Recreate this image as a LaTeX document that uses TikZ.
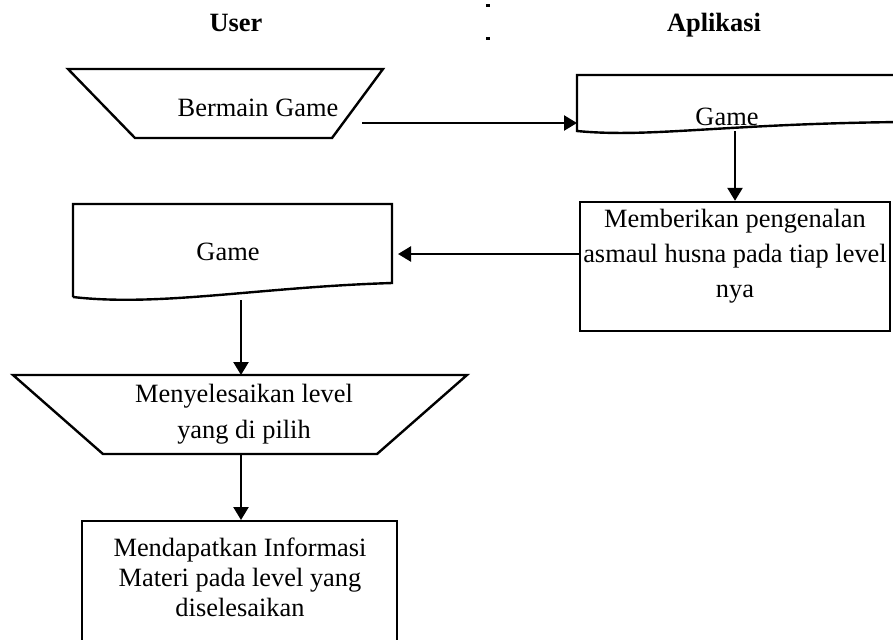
\documentclass[tikz,border=0pt]{standalone}
\usepackage{fontspec}
\setmainfont{Liberation Serif}
\usetikzlibrary{arrows.meta}
\begin{document}
\begin{tikzpicture}[x=0.5pt,y=-0.5pt,
  shp/.style={draw=black, line width=1.2pt, line join=miter},
  lbl/.style={inner sep=0pt, align=center, font=\fontsize{13.2}{17.5}\selectfont},
  hdr/.style={inner sep=0pt, font=\fontsize{13.2}{16}\selectfont\bfseries},
  arr/.style={line width=1.2pt, -{Triangle[length=6.5pt,width=7.5pt]}},
  tick/.style={fill=black}]
\clip (0,0) rectangle (893,639);
\fill[white] (0,0) rectangle (893,639);
% headers
\node[hdr, anchor=base] (user) at (236,31) {User};
\node[hdr, anchor=base] (apl) at (714,31) {Aplikasi};
\fill[tick] (486,3.5) rectangle (489.5,6.5);
\fill[tick] (486,36.5) rectangle (489.5,39.5);
% manual input: Bermain Game
\draw[shp] (68,69) -- (383,69) -- (332,138) -- (135,138) -- cycle;
\node[lbl, anchor=base] (bermain) at (258,116) {Bermain Game};
% document: Game (Aplikasi)
\draw[shp] (900,75) -- (577,75) -- (577,131) .. controls (650,138) and (720,124) .. (900,122);
\node[lbl, anchor=base] (game1) at (727,125) {Game};
% process: Memberikan pengenalan
\node[shp, minimum width=155pt, minimum height=64.5pt, inner sep=0pt] (box1) at (735,266.5) {};
\node[lbl] (memb) at (735,256) {Memberikan pengenalan\\asmaul husna pada tiap level\\nya};
% document: Game (User)
\draw[shp] (73,297) -- (73,204) -- (392,204) -- (392,283) .. controls (260,287) and (160,307) .. (73,297);
\node[lbl, anchor=base] (game2) at (228,260) {Game};
% manual input: Menyelesaikan level
\draw[shp] (13,375) -- (467,375) -- (377,454) -- (103,454) -- cycle;
\node[lbl, font=\fontsize{13.2}{18}\selectfont] (menye) at (244,414) {Menyelesaikan level\\yang di pilih};
% process: Mendapatkan Informasi
\node[shp, minimum width=157.5pt, minimum height=80pt, inner sep=0pt, anchor=north] (box2) at (239.5,520) {};
\node[lbl, font=\fontsize{13.2}{15}\selectfont] (mend) at (240,577) {Mendapatkan Informasi\\Materi pada level yang\\diselesaikan};
% connector end points
\coordinate (a1s) at (362,123);
\coordinate (a1e) at (577,123);
\coordinate (a2s) at (735,131);
\coordinate (a3s) at (box1.west |- 0,254);
\coordinate (a3e) at (398,254);
\coordinate (a4s) at (241,300);
\coordinate (a4e) at (241,375);
\coordinate (a5s) at (241,454);
% connectors
\draw[arr] (a1s) -- (a1e);
\draw[arr] (a2s) -- (box1.north);
\draw[arr] (a3s) -- (a3e);
\draw[arr] (a4s) -- (a4e);
\draw[arr] (a5s) -- (a5s |- box2.north);
\end{tikzpicture}
\end{document}
